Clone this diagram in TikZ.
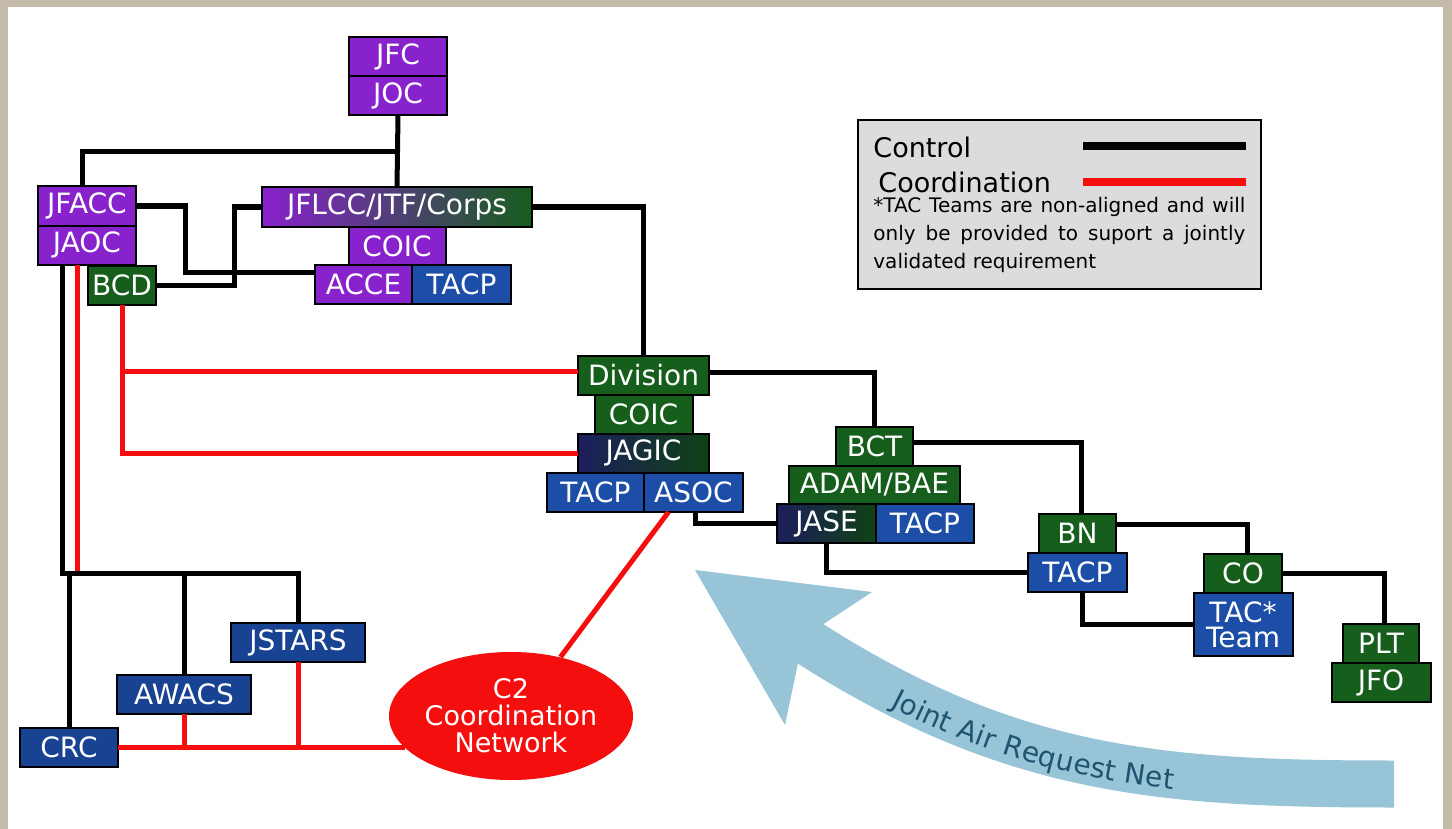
\documentclass[tikz,border=0pt]{standalone}
\usepackage{fontspec}
\setmainfont{DejaVu Sans}
\usetikzlibrary{shapes, positioning, decorations.text}
\definecolor{jpurple}{RGB}{136,34,204}
\definecolor{jgreen}{RGB}{22,94,28}
\definecolor{jblue}{RGB}{28,78,168}
\definecolor{jdarkblue}{RGB}{24,66,146}
\definecolor{jnavy}{RGB}{28,30,92}
\definecolor{jred}{RGB}{245,14,14}
\definecolor{netblue}{RGB}{152,196,216}
\definecolor{nettext}{RGB}{30,84,112}
\definecolor{framebeige}{RGB}{196,186,170}
\definecolor{legendgray}{RGB}{220,220,220}

\begin{document}
\begin{tikzpicture}[x=0.5pt, y=-0.5pt,
    box/.style = {draw, line width=1pt, outer sep=0pt, inner sep=0pt, text=white,
                  minimum height=19.5pt, font=\fontsize{14}{14}\selectfont},
    purplebox/.style = {box, fill=jpurple},
    greenbox/.style = {box, fill=jgreen},
    bluebox/.style = {box, fill=jblue},
    airbox/.style = {box, fill=jdarkblue},
    mixbox/.style = {box, left color=jnavy, middle color=jpurple!90!black, right color=jgreen!70!black},
    corpsbox/.style = {box, left color=jpurple, middle color=jpurple!60!black, right color=jgreen},
    ctrlline/.style = {line width=2.5pt},
    coordline/.style = {line width=2.5pt, jred}]
    \useasboundingbox (0,0) rectangle (1452,829);
    \fill[framebeige] (0,0) rectangle (1452,829);
    \fill[white] (8,7) rectangle (1443,829);

    % joint level
    \node[purplebox, minimum width=49pt] (JFC) at (398,57) {JFC};
    \node[purplebox, minimum width=49pt, below=0pt of JFC] (JOC) {JOC};

    \node[purplebox, minimum width=49pt] (JFACC) at (87,206) {JFACC};
    \node[purplebox, minimum width=49pt, below=0pt of JFACC] (JAOC) {JAOC};
    \node[greenbox, minimum width=34pt] (BCD) at (122,285) {BCD};

    \node[corpsbox, minimum width=135pt] (JFLCC) at (397,207) {JFLCC/JTF/Corps};
    \node[purplebox, minimum width=48.5pt, below=0pt of JFLCC] (COIC) {COIC};
    \node[purplebox, minimum width=48.5pt] (ACCE) at (363.5,284.5) {ACCE};
    \node[bluebox, minimum width=49.5pt, right=0pt of ACCE] (TACP) {TACP};

    % division
    \node[greenbox, minimum width=65.5pt] (Division) at (643.5,375) {Division};
    \node[greenbox, minimum width=49pt, below=0pt of Division] (DivCOIC) {COIC};
    \node[mixbox, minimum width=65.5pt, below=0pt of DivCOIC] (JAGIC) {JAGIC};
    \node[bluebox, minimum width=48.5pt] (DivTACP) at (595.5,492.5) {TACP};
    \node[bluebox, minimum width=49.5pt, right=0pt of DivTACP] (ASOC) {ASOC};

    % brigade and below
    \node[greenbox, minimum width=38.5pt] (BCT) at (874.5,446) {BCT};
    \node[greenbox, minimum width=85.5pt, below=0pt of BCT] (ADAM) {ADAM/BAE};
    \node[mixbox, minimum width=49.5pt] (JASE) at (826.5,523.5) {JASE};
    \node[bluebox, minimum width=49pt, right=0pt of JASE] (BCTTACP) {TACP};

    \node[greenbox, minimum width=38.5pt] (BN) at (1077.5,533) {BN};
    \node[bluebox, minimum width=49.5pt, below=0pt of BN] (BNTACP) {TACP};

    \node[greenbox, minimum width=39pt] (CO) at (1243,573.5) {CO};
    \node[bluebox, minimum width=49.5pt, minimum height=31.5pt, align=center,
          font=\fontsize{14}{12.5}\selectfont, below=0pt of CO] (TAC) {TAC*\\Team};

    \node[greenbox, minimum width=38pt] (PLT) at (1381,643.5) {PLT};
    \node[greenbox, minimum width=49.5pt, below=0pt of PLT] (JFO) {JFO};

    % air assets
    \node[airbox, minimum width=49pt] (CRC) at (69,747) {CRC};
    \node[airbox, minimum width=67pt] (AWACS) at (184,694.5) {AWACS};
    \node[airbox, minimum width=67pt] (JSTARS) at (298,642.5) {JSTARS};

    \node[ellipse, fill=jred, minimum width=120pt, minimum height=64pt, inner sep=0pt,
          text=white, align=center, font=\fontsize{13.5}{13.5}\selectfont] (C2) at (511,716)
          {C2\\Coordination\\Network};

    % coordination
    \coordinate (redbus) at (77,573);
    \coordinate (divred) at ([yshift=2pt]Division.west);
    \draw[coordline] (JAOC.south -| redbus) -- (redbus);
    \draw[coordline] (BCD.south) |- (JAGIC.west);
    \draw[coordline] (BCD.south |- divred) -- (divred);
    \draw[coordline] (CRC.east) -- (CRC.east -| C2.197);
    \draw[coordline] (AWACS.south) -- (AWACS.south |- CRC.east);
    \draw[coordline] (JSTARS.south) -- (JSTARS.south |- CRC.east);
    \draw[coordline] ([xshift=-12.5pt]ASOC.south) -- (C2.50);

    % control
    \coordinate (jfcbus) at (398,152);
    \coordinate (airbus) at (62,573);
    \draw[ctrlline] (JOC.south) -- (JFLCC.north);
    \draw[ctrlline] ([xshift=-2.5pt]JFACC.north) |- (jfcbus);
    \draw[ctrlline] (JFACC.east) -- ++(49,0) |- ([yshift=6pt]ACCE.west);
    \draw[ctrlline] (BCD.east) -- ++(78,0) |- (JFLCC.west);
    \draw[ctrlline] (JFLCC.east) -| (Division.north);
    \draw[ctrlline] ([yshift=1.5pt]Division.east) -| (BCT.north);
    \draw[ctrlline] ([xshift=1pt]ASOC.south) |- (JASE.west);
    \draw[ctrlline] ([yshift=2pt]BCT.east) -| ([xshift=2pt]BN.north);
    \draw[ctrlline] (JASE.south) |- (BNTACP.west);
    \draw[ctrlline] ([yshift=4.5pt]BN.east) -| ([xshift=2pt]CO.north);
    \draw[ctrlline] ([xshift=2.5pt]BNTACP.south) |- (TAC.west);
    \draw[ctrlline] (CO.east) -| ([xshift=1.5pt]PLT.north);
    \draw[ctrlline] (JAOC.south -| airbus) -- (airbus) -| (JSTARS.north);
    \draw[ctrlline] (AWACS.north) -- (AWACS.north |- airbus);
    \draw[ctrlline] (CRC.north) -- (CRC.north |- airbus);

    % legend
    \node[draw, line width=1pt, fill=legendgray, minimum width=201.5pt, minimum height=84.5pt,
          inner sep=0pt] (legend) at (1059.5,204.5) {};
    \node[anchor=base west, inner sep=0pt, font=\fontsize{13.5}{13.5}\selectfont] (ctrlkey) at (873,157) {Control};
    \node[anchor=base west, inner sep=0pt, font=\fontsize{13.5}{13.5}\selectfont] (coordkey) at (878,192) {Coordination};
    \coordinate (ctrlA) at (1083,146);
    \coordinate (ctrlB) at (1246,146);
    \coordinate (coordA) at (1083,182);
    \coordinate (coordB) at (1246,182);
    \draw[ctrlline, line width=4pt] (ctrlA) -- (ctrlB);
    \draw[coordline, line width=4pt] (coordA) -- (coordB);
    \node[anchor=north west, inner sep=0pt, text width=186pt, align=justify,
          font=\fontsize{10}{14}\selectfont] (note) at (873,197)
          {*TAC Teams are non-aligned and will\linebreak only be provided to suport a jointly\linebreak validated requirement};

    % request net
    \fill[netblue] (695,570) -- (872,592) -- (822,625) -- (798,663) -- (785,725) -- cycle;
    \draw[netblue, line width=23.5pt] (800,637) .. controls (1007,772) and (1159,784) .. (1394,784);
    \path[decorate, decoration={text along path, text align={left indent=50pt}, raise=-7pt,
          text={|\fontsize{14}{14}\selectfont\color{nettext}|Joint Air Request Net}}]
          (810,644) .. controls (1007,772) and (1159,784) .. (1394,784);
\end{tikzpicture}
\end{document}
